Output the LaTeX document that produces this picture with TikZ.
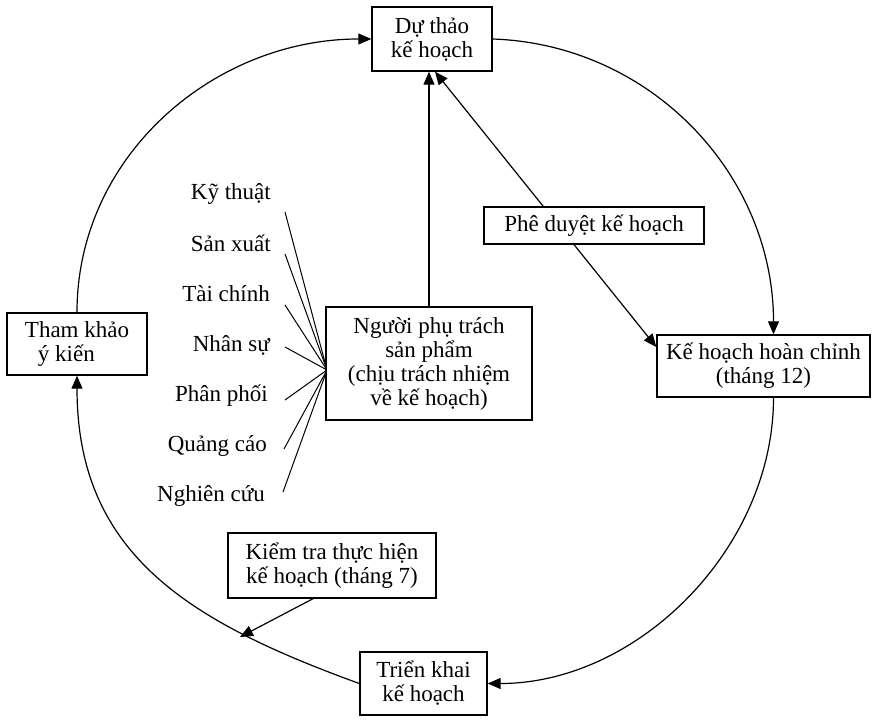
\documentclass[tikz,border=0pt]{standalone}
\usepackage{fontspec}
\setmainfont{Liberation Serif}
\usetikzlibrary{arrows.meta,backgrounds}
\begin{document}
\begin{tikzpicture}[x=1pt,y=-1pt,
  txt/.style={font=\fontsize{23}{24}\selectfont},
  box/.style={txt, draw, line width=1.4pt, fill=white, inner sep=0pt, align=center},
  lbl/.style={txt, anchor=east, inner sep=0pt, text height=15pt, text depth=5pt},
  link/.style={line width=1.2pt},
  tip/.style={-{Triangle[length=13pt,width=11pt]}},
]
\useasboundingbox (0,0) rectangle (874,719);

% cycle stages
\node[box, minimum width=120pt, minimum height=64pt] (dt) at (432,39) {Dự thảo\\kế hoạch};
\node[box, minimum width=140pt, minimum height=62pt, align=left] (tk) at (77,344) {Tham khảo\\\hspace*{13pt}ý kiến};
\node[box, minimum width=213pt, minimum height=62pt] (kh) at (763.5,366) {Kế hoạch hoàn chỉnh\\(tháng 12)};
\node[box, minimum width=127pt, minimum height=63pt] (tr) at (423.5,683.5) {Triển khai\\kế hoạch};

% centre and side boxes
\node[box, minimum width=206pt, minimum height=113pt] (ppt) at (429,363.5) {Người phụ trách\\sản phẩm\\(chịu trách nhiệm\\về kế hoạch)};
\node[box, minimum width=220pt, minimum height=37pt] (pd) at (594,225.5) {Phê duyệt kế hoạch};
\node[box, minimum width=208pt, minimum height=65pt] (kt) at (332,565.5) {Kiểm tra thực hiện\\kế hoạch (tháng 7)};

% departments
\node[lbl] (d1) at (271,195) {Kỹ thuật};
\node[lbl] (d2) at (271,246) {Sản xuất};
\node[lbl] (d3) at (270,296) {Tài chính};
\node[lbl] (d4) at (270,346) {Nhân sự};
\node[lbl] (d5) at (268,396) {Phân phối};
\node[lbl] (d6) at (267,446) {Quảng cáo};
\node[lbl] (d7) at (265,496) {Nghiên cứu};

\coordinate (f1) at (285,212);
\coordinate (f2) at (285,254);
\coordinate (f3) at (285,305);
\coordinate (f4) at (285,347);
\coordinate (f5) at (285,400);
\coordinate (f6) at (284,449);
\coordinate (f7) at (283,492);
\coordinate (hub) at (327,370);
\coordinate (chk) at (240,637);

\begin{pgfonlayer}{background}
  % outer cycle
  \draw[link, tip] (tk.north) to[out=90, in=180] (dt.west);
  \draw[link, tip] (dt.east) to[out=-2, in=90] ([xshift=10pt]kh.north);
  \draw[link, tip] ([xshift=10pt]kh.south) to[out=-90, in=0, looseness=0.95] (tr.east);
  \draw[link, tip] (tr.west) to[out=160, in=-90, looseness=1.1] (tk.south);
  % inner links
  \draw[link, tip] (ppt.north) -- (ppt.north |- dt.south);
  \draw[link, {Triangle[length=13pt,width=11pt]}-{Triangle[length=13pt,width=11pt]}]
    ([xshift=3pt]dt.south) -- ([yshift=19pt]kh.west);
  \draw[link, tip] ([xshift=-19pt]kt.south) -- (chk);
  % departments fan
  \foreach \i in {1,...,7} \draw[line width=1pt] (f\i) -- (hub);
\end{pgfonlayer}
\end{tikzpicture}
\end{document}
